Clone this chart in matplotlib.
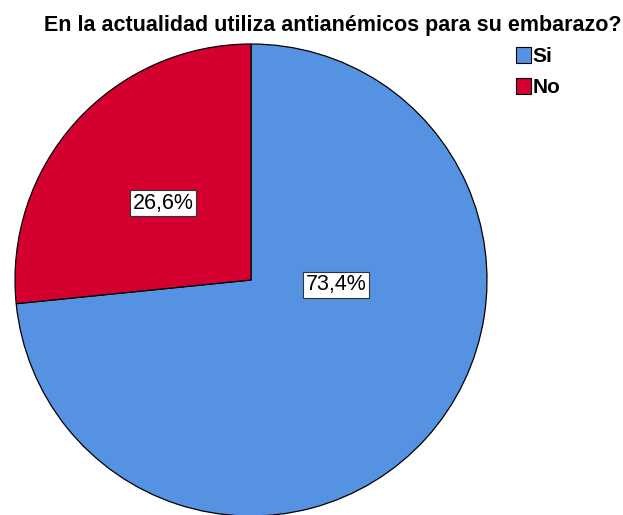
import matplotlib.pyplot as plt
from matplotlib.patches import Patch

plt.rcParams['font.family'] = ['Liberation Sans', 'DejaVu Sans']

# datos
categorias = ['Si', 'No']
porcentajes = [73.4, 26.6]
etiquetas = ['73,4%', '26,6%']
colores = ['#5593E2', '#D30030']

fig = plt.figure(figsize=(6.23, 5.15), dpi=100)
# eje colocado para que el centro quede en (251, 280) px y radio ~236 px
W, H = 623, 515
r = 236
cx, cy = 251, 280
ax = fig.add_axes([(cx - r) / W, (H - cy - r) / H, 2 * r / W, 2 * r / H])

wedges, _ = ax.pie(porcentajes, colors=colores, startangle=90, counterclock=False,
                   wedgeprops=dict(edgecolor='black', linewidth=0.9))
ax.set_xlim(-1, 1)
ax.set_ylim(-1, 1)
ax.set_aspect('equal')

# posiciones de etiquetas (estilo SPSS)
pos_etiquetas = [(0.36, -0.02), (-0.373, 0.326)]
for txt, (x, y) in zip(etiquetas, pos_etiquetas):
    ax.text(x, y, txt, ha='center', va='center', fontsize=15.5,
            bbox=dict(boxstyle='square,pad=0.12', facecolor='white',
                      edgecolor='#333333', linewidth=0.8))

fig.text(333 / W, 1 - 25 / H, 'En la actualidad utiliza antianémicos para su embarazo?',
         ha='center', va='center', fontsize=15.5, fontweight='bold')

handles = [Patch(facecolor=c, edgecolor='black', linewidth=0.8) for c in colores]
fig.legend(handles, categorias, loc='upper left', bbox_to_anchor=(516 / W, 1 - 47 / H),
           frameon=False, prop=dict(size=15, weight='bold'), handlelength=0.7,
           handleheight=0.8, handletextpad=0.1, labelspacing=0.55,
           borderaxespad=0, borderpad=0)

fig.savefig('out.png', dpi=100)
